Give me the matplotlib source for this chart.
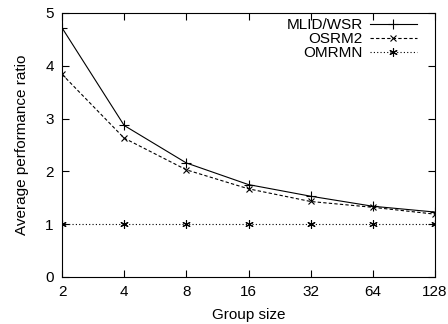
import matplotlib
matplotlib.use("Agg")
import matplotlib.pyplot as plt

group_size = [2, 4, 8, 16, 32, 64, 128]
mlid_wsr = [4.72, 2.87, 2.16, 1.75, 1.53, 1.34, 1.23]
osrm2 = [3.84, 2.63, 2.03, 1.67, 1.43, 1.32, 1.19]
omrmn = [1.0, 1.0, 1.0, 1.0, 1.0, 1.0, 1.0]
y_ticks = [0, 1, 2, 3, 4, 5]

plt.rcParams["font.family"] = ["Liberation Sans", "DejaVu Sans"]
plt.rcParams["font.size"] = 11

fig = plt.figure(figsize=(4.48, 3.24), dpi=100)
ax = fig.add_axes([62 / 448, 47 / 324, 373 / 448, 264 / 324])

ax.plot(group_size, mlid_wsr, color="black", lw=0.8, marker="+", ms=7,
        mew=0.8, label="MLID/WSR")
ax.plot(group_size, osrm2, color="black", lw=0.8, ls=(0, (3, 2)), marker="x",
        ms=5, mew=0.8, label="OSRM2")
ax.plot(group_size, omrmn, color="black", lw=0.8, ls=(0, (1, 2)), marker=(6, 2, 0),
        ms=6, mew=0.8, label="OMRMN")

ax.set_xscale("log", base=2)
ax.set_xlim(2, 128)
ax.set_ylim(0, 5)
ax.set_xticks(group_size)
ax.set_xticklabels([str(g) for g in group_size])
ax.minorticks_off()
ax.set_yticks(y_ticks)
ax.tick_params(direction="in", length=5, width=0.8, top=True, right=True, pad=6)
for s in ax.spines.values():
    s.set_linewidth(0.8)

ax.set_xlabel("Group size", labelpad=6)
ax.set_ylabel("Average performance ratio", labelpad=12)

ax.legend(loc="upper right", bbox_to_anchor=(417 / 448, 306 / 324),
          bbox_transform=fig.transFigure, frameon=False, markerfirst=False,
          handlelength=3.1, handletextpad=0.45, labelspacing=0.0,
          borderaxespad=0, borderpad=0)

fig.savefig("out.png", dpi=100)
